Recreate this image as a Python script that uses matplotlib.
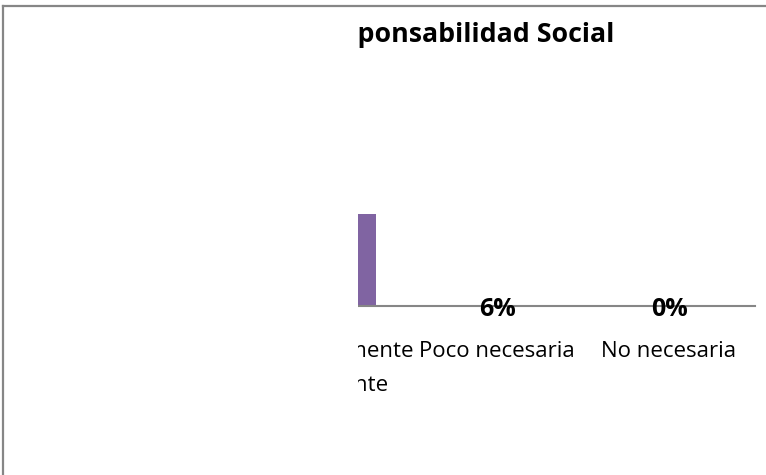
import matplotlib
matplotlib.use("Agg")
import matplotlib.pyplot as plt
from matplotlib.patches import Rectangle
from matplotlib.lines import Line2D

# data (first category is hidden behind the white area in the reference)
categories = ["Muy necesaria", "Extremadamente\nconveniente", "Poco necesaria", "No necesaria"]
values = [54, 40, 0, 0]
pct_labels = ["", "", "6%", "0%"]
title = "Formación en Responsabilidad Social"

W, H = 766, 475

def fx(px):
    return px / W

def fy(py):
    return 1 - py / H

fig = plt.figure(figsize=(W / 100, H / 100), dpi=100)
fig.patch.set_facecolor("white")

ax = fig.add_axes([fx(67), fy(306), fx(755) - fx(67), fy(76) - fy(306)])
x = list(range(len(categories)))
ax.bar(x, values, width=0.59, color="#8064A2", zorder=2)
ax.set_xlim(-0.5, len(categories) - 0.5)
ax.set_ylim(0, 100)

for s in ["top", "right", "left"]:
    ax.spines[s].set_visible(False)
ax.spines["bottom"].set_color("#868686")
ax.spines["bottom"].set_linewidth(1.5)
ax.set_yticks([])
ax.set_xticks(x)
ax.set_xticklabels(categories, fontsize=16, family="Open Sans", linespacing=1.8)
ax.tick_params(axis="x", length=0, pad=25)

for xi, v, lab in zip(x, values, pct_labels):
    if lab:
        ax.text(xi, v, lab, ha="center", va="center_baseline", fontsize=18,
                fontweight="bold", family="Open Sans", zorder=3)

fig.text(fx(614), fy(35), title, ha="right", va="center", fontsize=19.3,
         fontweight="bold", family="Open Sans")

# white area covering the left part of the chart
fig.add_artist(Rectangle((fx(5), 0), fx(358) - fx(5), fy(8), transform=fig.transFigure,
                         facecolor="white", edgecolor="none", zorder=10))

# outer frame (top and left)
fig.add_artist(Line2D([fx(3), 1], [fy(6), fy(6)], transform=fig.transFigure,
                      color="#868686", linewidth=1.6, zorder=11))
fig.add_artist(Line2D([fx(3), fx(3)], [0, fy(6)], transform=fig.transFigure,
                      color="#868686", linewidth=1.6, zorder=11))

fig.savefig("out.png", dpi=100)
